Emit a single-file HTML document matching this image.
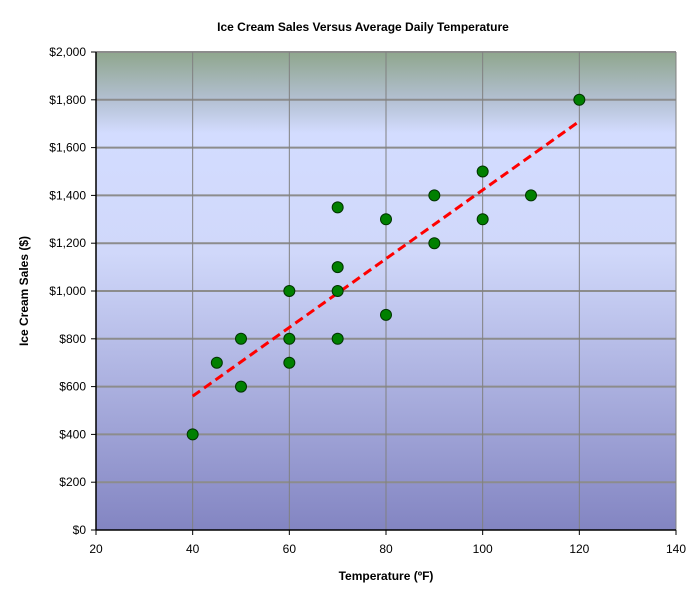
<!DOCTYPE html>
<html><head><meta charset="utf-8"><style>
body{margin:0;background:#fff;font-family:"Liberation Sans",sans-serif}
</style></head><body>
<svg width="700" height="599" xmlns="http://www.w3.org/2000/svg">
<defs><linearGradient id="bg" x1="0" y1="0" x2="0" y2="1">
<stop offset="0" stop-color="#8fa68d"/><stop offset="0.1" stop-color="#b3c0d2"/><stop offset="0.17" stop-color="#d3dcff"/><stop offset="0.42" stop-color="#d0d8fa"/><stop offset="1" stop-color="#8385c2"/>
</linearGradient></defs>
<text x="363" y="31" text-anchor="middle" font-size="12" font-weight="bold">Ice Cream Sales Versus Average Daily Temperature</text>
<rect x="96" y="52" width="580" height="478" fill="url(#bg)"/>
<g id="grid"></g><g id="axes"></g><g id="trend"></g><g id="pts"></g>
<text x="386" y="580" text-anchor="middle" font-size="12" font-weight="bold">Temperature (ºF)</text>
<text transform="translate(28,291) rotate(-90)" text-anchor="middle" font-size="12" font-weight="bold">Ice Cream Sales ($)</text>
</svg>
<script>
const temps=[40,45,50,50,60,60,60,70,70,70,70,80,80,90,90,100,100,110,120];
const sales=[400,700,800,600,1000,800,700,1350,1100,1000,800,1300,900,1400,1200,1500,1300,1400,1800];
const xTicks=[20,40,60,80,100,120,140];
const yTicks=[0,200,400,600,800,1000,1200,1400,1600,1800,2000];
const trendX=[40,120];
const trendY=[560,1710];
const NS="http://www.w3.org/2000/svg";
const X=v=>96+(v-20)/120*580, Y=v=>530-v/2000*478;
function mk(p,t,a){const e=document.createElementNS(NS,t);for(const k in a)e.setAttribute(k,a[k]);document.getElementById(p).appendChild(e);return e;}
yTicks.forEach(v=>{
 if(v>0){const l=mk('grid','line',{x1:96,x2:676,y1:Y(v),y2:Y(v),stroke:'#8c8c8c','stroke-width':2});
 
 }
 mk('axes','line',{x1:91,x2:96,y1:Y(v),y2:Y(v),stroke:'#000'});
 const t=mk('axes','text',{x:86,y:Y(v)+4,'text-anchor':'end','font-size':12});
 t.textContent='$'+v.toLocaleString('en-US');
 
 
});
xTicks.forEach(v=>{
 if(v>20){const l=mk('grid','line',{x1:X(v),x2:X(v),y1:52,y2:530,stroke:'#808080','stroke-width':1});
 
 }
 mk('axes','line',{x1:X(v),x2:X(v),y1:530,y2:535,stroke:'#000'});
 const t=mk('axes','text',{x:X(v),y:553,'text-anchor':'middle','font-size':12});
 t.textContent=v;
 
 
});
mk('axes','line',{x1:96,x2:96,y1:52,y2:530,stroke:'#000','stroke-width':1.5});
mk('axes','line',{x1:96,x2:676,y1:530,y2:530,stroke:'#000','stroke-width':1.5});
const tl=mk('trend','line',{x1:X(trendX[0]),y1:Y(trendY[0]),x2:X(trendX[1]),y2:Y(trendY[1]),stroke:'#ff0000','stroke-width':3,'stroke-dasharray':'9,5'});


temps.forEach((t,i)=>{
 const c=mk('pts','circle',{cx:X(t),cy:Y(sales[i]),r:5.5,fill:'#008000',stroke:'#003300','stroke-width':1});
 
 
});
</script>
</body></html>
